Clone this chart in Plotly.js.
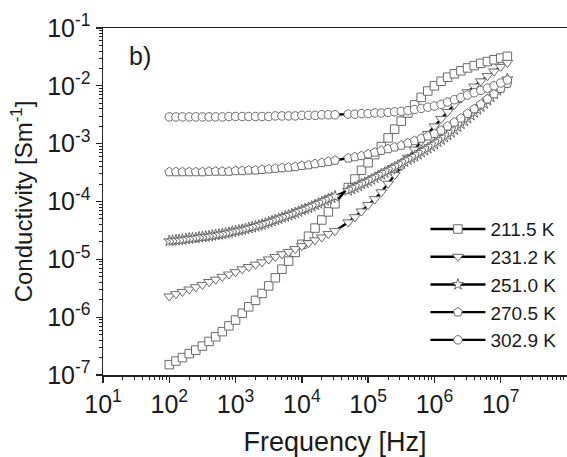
<!DOCTYPE html>
<html><head><meta charset="utf-8">
<script src="https://cdn.plot.ly/plotly-3.0.1.min.js"></script>
<style>html,body{margin:0;padding:0;background:#fff}#chart{width:567px;height:457px}</style>
</head><body><div id="chart"></div>
<script>
// Frequencies [Hz] (10 points / decade, gap between the two measurement ranges)
const freqA = [100,126,158,200,251,316,398,501,631,794,
  1e3,1.26e3,1.58e3,2e3,2.51e3,3.16e3,3.98e3,5.01e3,6.31e3,7.94e3,
  1e4,1.26e4,1.58e4,2e4,2.51e4,3.16e4,
  5.01e4,6.31e4,7.94e4,
  1e5,1.26e5,1.58e5,2e5,2.51e5,3.16e5,3.98e5,5.01e5,6.31e5,7.94e5,
  1e6,1.26e6,1.58e6,2e6,2.51e6,3.16e6,3.98e6,5.01e6,6.31e6,7.94e6,
  1e7,1.26e7];
// Frequencies [Hz] for the 251.0 K set (denser sampling)
const freqB = [100,112,126,141,158,178,200,224,251,282,316,355,398,447,501,562,631,708,794,891,
  1e3,1.12e3,1.26e3,1.41e3,1.58e3,1.78e3,2e3,2.24e3,2.51e3,2.82e3,3.16e3,3.55e3,3.98e3,4.47e3,5.01e3,5.62e3,6.31e3,7.08e3,7.94e3,8.91e3,
  1e4,1.12e4,1.26e4,1.41e4,1.58e4,1.78e4,2e4,2.24e4,2.51e4,2.82e4,3.16e4,
  5.01e4,5.62e4,6.31e4,7.08e4,7.94e4,8.91e4,
  1e5,1.12e5,1.26e5,1.41e5,1.58e5,1.78e5,2e5,2.24e5,2.51e5,2.82e5,3.16e5,3.55e5,3.98e5,4.47e5,5.01e5,5.62e5,6.31e5,7.08e5,7.94e5,8.91e5,
  1e6,1.12e6,1.26e6,1.41e6,1.58e6,1.78e6,2e6,2.24e6,2.51e6,2.82e6,3.16e6,3.55e6,3.98e6,4.47e6,5.01e6,5.62e6,6.31e6,7.08e6,7.94e6,8.91e6,
  1e7,1.12e7,1.26e7];

// Conductivity [S/m]
const sigma_2115 = [1.51e-7,1.74e-7,2.0e-7,2.34e-7,2.69e-7,3.16e-7,3.80e-7,4.57e-7,5.62e-7,7.08e-7,
  8.91e-7,1.17e-6,1.51e-6,1.95e-6,2.57e-6,3.47e-6,4.79e-6,6.76e-6,9.33e-6,1.32e-5,
  1.82e-5,2.51e-5,3.47e-5,4.79e-5,6.61e-5,9.12e-5,
  1.74e-4,2.45e-4,3.47e-4,
  4.68e-4,6.46e-4,8.91e-4,1.26e-3,1.78e-3,2.45e-3,3.39e-3,4.68e-3,6.31e-3,8.13e-3,
  1.0e-2,1.20e-2,1.41e-2,1.62e-2,1.82e-2,2.04e-2,2.24e-2,2.45e-2,2.63e-2,2.82e-2,
  3.02e-2,3.24e-2];
const sigma_2312 = [2.29e-6,2.51e-6,2.75e-6,3.02e-6,3.31e-6,3.63e-6,4.07e-6,4.47e-6,5.01e-6,5.50e-6,
  6.03e-6,6.76e-6,7.41e-6,8.13e-6,8.91e-6,1.0e-5,1.10e-5,1.23e-5,1.35e-5,1.51e-5,
  1.70e-5,1.91e-5,2.14e-5,2.40e-5,2.75e-5,3.09e-5,
  4.37e-5,5.37e-5,6.76e-5,
  8.71e-5,1.10e-4,1.45e-4,2.04e-4,2.88e-4,4.07e-4,5.75e-4,7.94e-4,1.10e-3,1.48e-3,
  2.0e-3,2.69e-3,3.55e-3,4.68e-3,6.03e-3,7.76e-3,9.77e-3,1.20e-2,1.48e-2,1.78e-2,
  2.14e-2,2.51e-2];
const sigma_2510 = [2.09e-5,2.11e-5,2.14e-5,2.16e-5,2.19e-5,2.24e-5,2.29e-5,2.32e-5,2.34e-5,2.40e-5,
  2.45e-5,2.48e-5,2.51e-5,2.57e-5,2.63e-5,2.69e-5,2.75e-5,2.82e-5,2.88e-5,2.99e-5,
  3.09e-5,3.16e-5,3.24e-5,3.35e-5,3.47e-5,3.59e-5,3.72e-5,3.85e-5,3.98e-5,4.17e-5,
  4.37e-5,4.57e-5,4.79e-5,5.01e-5,5.25e-5,5.50e-5,5.75e-5,6.03e-5,6.31e-5,6.68e-5,
  7.08e-5,7.41e-5,7.76e-5,8.22e-5,8.71e-5,9.23e-5,9.77e-5,1.035e-4,1.10e-4,1.16e-4,1.23e-4,
  1.55e-4,1.64e-4,1.74e-4,1.86e-4,2.0e-4,2.11e-4,
  2.24e-4,2.40e-4,2.57e-4,2.75e-4,2.95e-4,3.16e-4,3.39e-4,3.63e-4,3.89e-4,4.17e-4,
  4.47e-4,4.84e-4,5.25e-4,5.62e-4,6.03e-4,6.53e-4,7.08e-4,7.67e-4,8.32e-4,9.02e-4,
  9.77e-4,1.07e-3,1.17e-3,1.29e-3,1.41e-3,1.57e-3,1.74e-3,1.95e-3,2.19e-3,2.45e-3,
  2.75e-3,3.09e-3,3.47e-3,3.89e-3,4.37e-3,4.95e-3,5.62e-3,6.38e-3,7.24e-3,8.32e-3,
  9.55e-3,1.12e-2,1.32e-2];
const sigma_2705 = [3.24e-4,3.24e-4,3.24e-4,3.24e-4,3.24e-4,3.24e-4,3.31e-4,3.31e-4,3.31e-4,3.31e-4,
  3.39e-4,3.39e-4,3.47e-4,3.47e-4,3.55e-4,3.63e-4,3.72e-4,3.80e-4,3.89e-4,3.98e-4,
  4.17e-4,4.27e-4,4.47e-4,4.68e-4,4.90e-4,5.13e-4,
  5.62e-4,5.89e-4,6.17e-4,
  6.61e-4,7.08e-4,7.59e-4,8.13e-4,8.71e-4,9.33e-4,1.02e-3,1.12e-3,1.23e-3,1.35e-3,
  1.48e-3,1.70e-3,2.0e-3,2.34e-3,2.75e-3,3.31e-3,3.98e-3,4.79e-3,5.89e-3,7.24e-3,
  8.91e-3,1.10e-2];
const sigma_3029 = [2.9e-3,2.9e-3,2.9e-3,2.9e-3,2.9e-3,2.9e-3,2.9e-3,2.9e-3,2.9e-3,2.95e-3,
  2.95e-3,2.95e-3,2.95e-3,2.95e-3,2.95e-3,2.95e-3,3.02e-3,3.02e-3,3.02e-3,3.02e-3,
  3.09e-3,3.09e-3,3.09e-3,3.16e-3,3.16e-3,3.16e-3,
  3.24e-3,3.24e-3,3.31e-3,
  3.31e-3,3.39e-3,3.39e-3,3.47e-3,3.55e-3,3.63e-3,3.72e-3,3.89e-3,4.07e-3,4.27e-3,
  4.47e-3,4.79e-3,5.25e-3,5.75e-3,6.31e-3,6.92e-3,7.59e-3,8.32e-3,9.12e-3,1.0e-2,
  1.12e-2,1.26e-2];

const seriesNames = ['211.5 K','231.2 K','251.0 K','270.5 K','302.9 K'];
const xTickVals = [10,100,1e3,1e4,1e5,1e6,1e7];
const xTickText = ['10<sup>1</sup>','10<sup>2</sup>','10<sup>3</sup>','10<sup>4</sup>','10<sup>5</sup>','10<sup>6</sup>','10<sup>7</sup>'];
const yTickVals = [1e-7,1e-6,1e-5,1e-4,1e-3,1e-2,1e-1];
const yTickText = ['10<sup>-7</sup>','10<sup>-6</sup>','10<sup>-5</sup>','10<sup>-4</sup>','10<sup>-3</sup>','10<sup>-2</sup>','10<sup>-1</sup>'];

const FONT = 'Liberation Sans, Arial, Helvetica, sans-serif';
const MARK_LINE = '#6a6a6a';
function mk(x, y, name, symbol, size) {
  return {
    x: x, y: y, name: name, type: 'scatter', mode: 'lines+markers',
    line: {color: '#000', width: 2.4},
    marker: {symbol: symbol, size: size, color: '#fff', line: {color: MARK_LINE, width: 1}},
    cliponaxis: false
  };
}
const data = [
  mk(freqA, sigma_2115, seriesNames[0], 'square', 8.5),
  mk(freqA, sigma_2312, seriesNames[1], 'triangle-down', 9.5),
  mk(freqB, sigma_2510, seriesNames[2], 'star', 8.5),
  mk(freqA, sigma_2705, seriesNames[3], 'pentagon', 9.5),
  mk(freqA, sigma_3029, seriesNames[4], 'circle', 8.5)
];

const layout = {
  width: 567, height: 457,
  margin: {l: 103, r: 0, t: 28, b: 82},
  paper_bgcolor: '#fff', plot_bgcolor: '#fff',
  font: {family: FONT, color: '#1a1a1a', size: 24},
  showlegend: true,
  legend: {x: 0.988, xanchor: 'right', y: 0.475, yanchor: 'top',
           bgcolor: 'rgba(0,0,0,0)', font: {size: 19, family: FONT, color: '#1a1a1a'},
           itemwidth: 55, tracegroupgap: 0},
  xaxis: {
    type: 'log', range: [1, 8],
    tickmode: 'array', tickvals: xTickVals, ticktext: xTickText,
    ticks: 'outside', ticklen: 6, tickwidth: 1.3, tickcolor: '#222',
    minor: {dtick: 'D1', ticks: 'outside', ticklen: 3, tickwidth: 1, tickcolor: '#222', showgrid: false},
    showline: true, linecolor: '#222', linewidth: 1.5, mirror: true,
    showgrid: false, zeroline: false,
    tickfont: {size: 25, family: FONT, color: '#1a1a1a'},
    title: {text: 'Frequency [Hz]', font: {size: 27, family: FONT, color: '#1a1a1a'}, standoff: 17}
  },
  yaxis: {
    type: 'log', range: [-7, -1],
    tickmode: 'array', tickvals: yTickVals, ticktext: yTickText,
    ticks: 'outside', ticklen: 6, tickwidth: 1.3, tickcolor: '#222',
    minor: {dtick: 'D1', ticks: 'outside', ticklen: 3, tickwidth: 1, tickcolor: '#222', showgrid: false},
    showline: true, linecolor: '#222', linewidth: 1.5, mirror: false,
    showgrid: false, zeroline: false,
    tickfont: {size: 25, family: FONT, color: '#1a1a1a'},
    title: {text: 'Conductivity [Sm<sup>-1</sup>]', font: {size: 24, family: FONT, color: '#1a1a1a'}, standoff: 7}
  },
  annotations: [{
    text: 'b)', xref: 'paper', yref: 'paper', x: 0.052, y: 0.92,
    xanchor: 'left', yanchor: 'middle', showarrow: false,
    font: {size: 25, family: FONT, color: '#1a1a1a'}
  }]
};
Plotly.newPlot('chart', data, layout, {staticPlot: true, displayModeBar: false});
</script>
</body></html>
